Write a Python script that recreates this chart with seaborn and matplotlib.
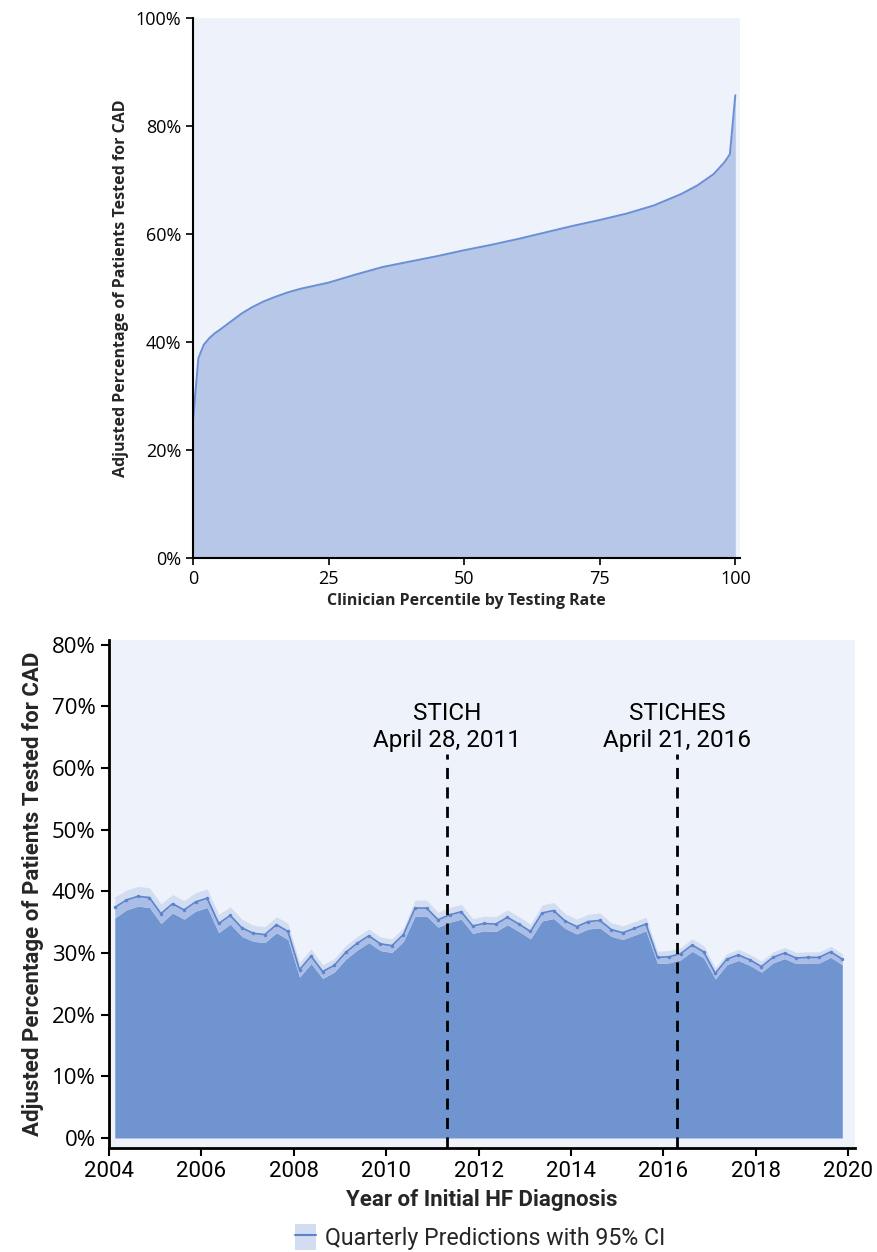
import numpy as np
import pandas as pd
import matplotlib
matplotlib.use("Agg")
import matplotlib.pyplot as plt
import seaborn as sns
from matplotlib.patches import Patch
from matplotlib.lines import Line2D
from matplotlib.ticker import PercentFormatter

# --- Panel A: clinician percentile vs adjusted testing rate ---
percentil = [0, 1, 2, 3, 4, 5, 7, 9, 11, 13, 15, 17.5, 20, 25, 30, 35, 40, 45, 50,
             55, 60, 65, 70, 75, 80, 85, 90, 93, 96, 98, 99, 100]
tasa_clinico = [25.3, 37.0, 39.5, 40.7, 41.6, 42.3, 43.8, 45.3, 46.5, 47.5, 48.3, 49.2,
                49.9, 51.0, 52.5, 53.9, 54.9, 55.9, 57.0, 58.0, 59.1, 60.3, 61.5, 62.6,
                63.8, 65.3, 67.4, 69.0, 71.1, 73.3, 74.8, 85.7]

# --- Panel B: quarterly predictions with 95% CI ---
trimestres = np.arange(2004.125, 2020.0, 0.25)
prediccion = [37.4, 38.6, 39.2, 39.0, 36.4, 38.0, 37.0, 38.3, 38.9, 34.8,
              36.1, 34.1, 33.2, 33.0, 34.6, 33.5, 27.3, 29.5, 27.0, 28.0,
              30.1, 31.6, 32.8, 31.5, 31.2, 33.0, 37.3, 37.3, 35.4, 36.2,
              36.7, 34.4, 34.8, 34.7, 35.8, 34.7, 33.5, 36.5, 36.9, 35.2,
              34.3, 35.1, 35.3, 33.8, 33.3, 34.0, 34.7, 29.3, 29.4, 29.9,
              31.3, 30.2, 26.7, 29.0, 29.7, 28.9, 27.8, 29.3, 30.0, 29.2,
              29.3, 29.3, 30.2, 29.0]
ic_medio = [1.7, 1.6, 1.6, 1.6, 1.6, 1.5, 1.5, 1.5, 1.5, 1.5,
            1.4, 1.4, 1.3, 1.3, 1.3, 1.3, 1.2, 1.2, 1.1, 1.1,
            1.1, 1.1, 1.1, 1.1, 1.1, 1.1, 1.3, 1.3, 1.2, 1.2,
            1.2, 1.2, 1.2, 1.2, 1.2, 1.2, 1.2, 1.3, 1.3, 1.2,
            1.2, 1.2, 1.2, 1.1, 1.1, 1.1, 1.1, 1.0, 1.0, 1.0,
            1.0, 1.0, 0.9, 0.9, 0.9, 0.9, 0.9, 0.9, 0.9, 0.9,
            0.9, 0.9, 0.9, 0.9]

eventos = ["STICH\nApril 28, 2011", "STICHES\nApril 21, 2016"]
fechas_eventos = [2011.32, 2016.30]

df_b = pd.DataFrame({"t": trimestres, "pred": prediccion, "ic": ic_medio})
df_b["lo"] = df_b["pred"] - df_b["ic"]
df_b["hi"] = df_b["pred"] + df_b["ic"]

sns.set_theme(style="ticks")
plt.rcParams["font.family"] = ["Open Sans", "DejaVu Sans"]
ESTRECHA = ["Roboto", "DejaVu Sans"]

FONDO = "#eef2fa"
AZUL_CLARO = "#b7c7e8"
AZUL_LINEA = "#6a8fd6"
AZUL_OSCURO = "#7094d0"
BANDA_MEDIA = "#a9bde6"
BANDA_CLARA = "#d3ddf2"
LINEA_B = "#5b84cc"

fig = plt.figure(figsize=(8.77, 12.52), dpi=100)
ax1 = fig.add_axes([0.220, 0.5543, 0.624, 0.4313])
ax2 = fig.add_axes([0.1243, 0.0831, 0.8506, 0.4058])

# Panel A
ax1.set_facecolor(FONDO)
ax1.fill_between(percentil, 0, tasa_clinico, color=AZUL_CLARO, lw=0)
sns.lineplot(x=percentil, y=tasa_clinico, ax=ax1, color=AZUL_LINEA, lw=1.4)
ax1.set_xlim(0, 100.9)
ax1.set_ylim(0, 100)
ax1.set_xticks([0, 25, 50, 75, 100])
ax1.set_yticks([0, 20, 40, 60, 80, 100])
ax1.yaxis.set_major_formatter(PercentFormatter(decimals=0))
ax1.tick_params(labelsize=13, length=5, width=1.2, colors="black")
ax1.set_xlabel("Clinician Percentile by Testing Rate", fontsize=11.5, fontweight="bold", labelpad=4)
ax1.set_ylabel("Adjusted Percentage of Patients Tested for CAD", fontsize=11.5, fontweight="bold", labelpad=5)
for s in ["top", "right"]:
    ax1.spines[s].set_visible(False)
for s in ["left", "bottom"]:
    ax1.spines[s].set_linewidth(1.5)
    ax1.spines[s].set_color("black")

# Panel B
ax2.set_facecolor(FONDO)
ax2.fill_between(df_b["t"], 0, df_b["lo"], color=AZUL_OSCURO, lw=0)
ax2.fill_between(df_b["t"], df_b["lo"], df_b["pred"], color=BANDA_MEDIA, lw=0)
ax2.fill_between(df_b["t"], df_b["pred"], df_b["hi"], color=BANDA_CLARA, lw=0)
sns.lineplot(data=df_b, x="t", y="pred", ax=ax2, color=LINEA_B, lw=1.2,
             marker="o", markersize=2.5, markeredgewidth=0)
ax2.set_xlim(2004, 2020.15)
ax2.set_ylim(-1.62, 80.8)
ax2.set_xticks(range(2004, 2021, 2))
ax2.set_yticks(range(0, 81, 10))
ax2.yaxis.set_major_formatter(PercentFormatter(decimals=0))
ax2.tick_params(axis="y", labelsize=16, length=6, width=1.5, colors="black")
ax2.tick_params(axis="x", length=6, width=1.5, colors="black")
for lab in ax2.get_xticklabels():
    lab.set_family(ESTRECHA)
    lab.set_fontsize(16)
ax2.set_xlabel("Year of Initial HF Diagnosis", fontsize=16, fontweight="bold",
               family=ESTRECHA, labelpad=5)
ax2.set_ylabel("Adjusted Percentage of Patients Tested for CAD", fontsize=16,
               fontweight="bold", family=ESTRECHA, labelpad=6)
for s in ["top", "right"]:
    ax2.spines[s].set_visible(False)
for s in ["left", "bottom"]:
    ax2.spines[s].set_linewidth(2)
    ax2.spines[s].set_color("black")

for fecha, texto in zip(fechas_eventos, eventos):
    ax2.vlines(fecha, -1.62, 62.3, colors="black", linestyles=(0, (4, 3)), lw=2)
    ax2.text(fecha, 62.6, texto, ha="center", va="bottom", fontsize=17.5,
             family=ESTRECHA, linespacing=1.2, color="black")

handle = (Patch(facecolor=BANDA_CLARA, edgecolor="none"),
          Line2D([], [], color=LINEA_B, lw=1.5))
fig.legend(handles=[handle], labels=["Quarterly Predictions with 95% CI"],
           loc="center", bbox_to_anchor=(480 / 877, 1 - 1237 / 1252),
           frameon=False, prop={"family": ESTRECHA, "size": 16.7},
           handlelength=0.9, handleheight=1.3, handletextpad=0.4)

fig.savefig("out.png", dpi=100)
